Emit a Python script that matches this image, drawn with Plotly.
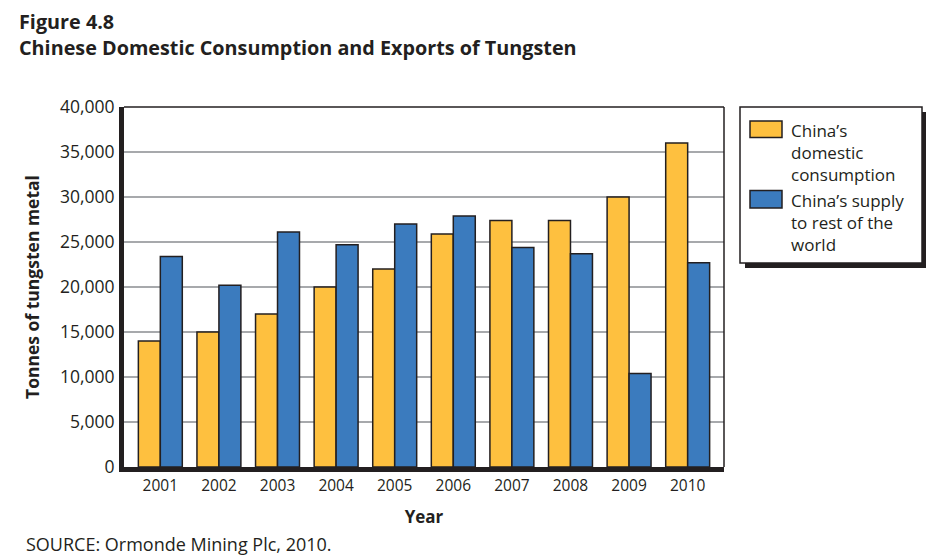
import plotly.graph_objects as go

years = ["2001", "2002", "2003", "2004", "2005", "2006", "2007", "2008", "2009", "2010"]
domestic = [14000, 15000, 17000, 20000, 22000, 25900, 27400, 27400, 30000, 36000]
exports = [23400, 20200, 26100, 24700, 27000, 27900, 24400, 23700, 10400, 22700]
tick_vals = [0, 5000, 10000, 15000, 20000, 25000, 30000, 35000, 40000]
tick_text = ["0", "5,000", "10,000", "15,000", "20,000", "25,000", "30,000", "35,000", "40,000"]
series_names = ["China’s<br>domestic<br>consumption", "China’s supply<br>to rest of the<br>world"]

YELLOW = "#FEC03F"
BLUE = "#3B7BBE"
EDGE = "#231F20"
TXT = "#231F20"
FONT = "Open Sans"

# page has an 8px body margin; work in reference coordinates and shift
OFF = 8
W, H = 934 - OFF, 558 - OFF
L, R, T, B = 124 - OFF, 724 - OFF, 107 - OFF, 467 - OFF

fig = go.Figure()
fig.add_trace(go.Bar(x=years, y=domestic, name=series_names[0], marker=dict(color=YELLOW, line=dict(color=EDGE, width=1.5)), showlegend=False))
fig.add_trace(go.Bar(x=years, y=exports, name=series_names[1], marker=dict(color=BLUE, line=dict(color=EDGE, width=1.5)), showlegend=False))

def px(x):
    return (x - OFF - L) / (R - L)

def py(y):
    return (B - (y - OFF)) / (B - T)

shapes = []
shapes.append(dict(type="line", xref="paper", yref="paper", x0=0, x1=1, y0=1, y1=1, line=dict(color=EDGE, width=1.5)))
shapes.append(dict(type="line", xref="paper", yref="paper", x0=1, x1=1, y0=0, y1=1, line=dict(color=EDGE, width=1.5)))
shapes.append(dict(type="rect", xref="paper", yref="paper", x0=px(745), x1=px(927), y0=py(268), y1=py(112), fillcolor=EDGE, line=dict(width=0), layer="above"))
shapes.append(dict(type="rect", xref="paper", yref="paper", x0=px(740), x1=px(922), y0=py(263), y1=py(107), fillcolor="white", line=dict(color=EDGE, width=1.5), layer="above"))
shapes.append(dict(type="rect", xref="paper", yref="paper", x0=px(750), x1=px(782), y0=py(137.5), y1=py(121), fillcolor=YELLOW, line=dict(color=EDGE, width=1.5), layer="above"))
shapes.append(dict(type="rect", xref="paper", yref="paper", x0=px(750), x1=px(782), y0=py(208), y1=py(190.5), fillcolor=BLUE, line=dict(color=EDGE, width=1.5), layer="above"))

ann = []
ann.append(dict(text=series_names[0], xref="paper", yref="paper", x=px(789), y=py(116.5), xanchor="left", yanchor="top", align="left", showarrow=False, font=dict(family=FONT, size=17, color=TXT)))
ann.append(dict(text=series_names[1], xref="paper", yref="paper", x=px(789), y=py(186.5), xanchor="left", yanchor="top", align="left", showarrow=False, font=dict(family=FONT, size=17, color=TXT)))
ann.append(dict(text="<b>Figure 4.8</b>", xref="paper", yref="paper", x=px(17), y=py(6), xanchor="left", yanchor="top", showarrow=False, font=dict(family=FONT, size=19.8, color=TXT)))
ann.append(dict(text="<b>Chinese Domestic Consumption and Exports of Tungsten</b>", xref="paper", yref="paper", x=px(17), y=py(31.5), xanchor="left", yanchor="top", showarrow=False, font=dict(family=FONT, size=19.8, color=TXT)))
ann.append(dict(text="SOURCE: Ormonde Mining Plc, 2010.", xref="paper", yref="paper", x=px(24), y=py(544), xanchor="left", yanchor="middle", showarrow=False, font=dict(family=FONT, size=18, color=TXT)))

fig.update_layout(
    width=W, height=H,
    margin=dict(l=L, r=W - R, t=T, b=H - B),
    paper_bgcolor="white", plot_bgcolor="white",
    barmode="group", bargap=0.25, bargroupgap=0,
    font=dict(family=FONT, size=15, color=TXT),
    shapes=shapes, annotations=ann,
    xaxis=dict(
        range=[-0.62, 9.62],
        showline=True, linecolor=EDGE, linewidth=5, ticks="", showgrid=False,
        tickfont=dict(family=FONT, size=15.5, color=TXT),
        title=dict(text="<b>Year</b>", font=dict(family=FONT, size=17, color=TXT), standoff=18),
    ),
    yaxis=dict(
        range=[0, 40000], tickvals=tick_vals, ticktext=tick_text,
        showline=True, linecolor=EDGE, linewidth=5, ticks="",
        showgrid=True, gridcolor="#A7A9AC", gridwidth=1.5, zeroline=False,
        tickfont=dict(family=FONT, size=17.5, color=TXT), ticklabelstandoff=1,
        title=dict(text="<b>Tonnes of tungsten metal</b>", font=dict(family=FONT, size=17.5, color=TXT), standoff=17),
    ),
)

fig.write_html("out.html")
